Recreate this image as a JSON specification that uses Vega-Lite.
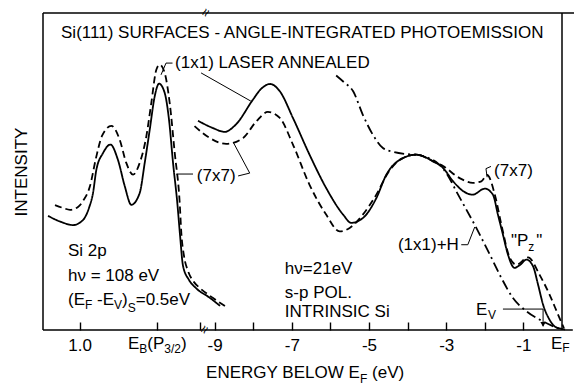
{
  "$schema": "https://vega.github.io/schema/vega-lite/v6.json",
  "background": "white",
  "padding": {"left": 12, "top": 6, "right": 0, "bottom": 0},
  "spacing": 0,
  "bounds": "flush",
  "resolve": {"scale": {"x": "independent", "y": "independent", "strokeDash": "independent"}},
  "config": {
    "view": {"stroke": null},
    "axis": {"labelFont": "Liberation Sans", "titleFont": "Liberation Sans", "labelColor": "black", "titleColor": "black", "grid": false, "domain": false},
    "text": {"font": "Liberation Sans", "color": "black"}
  },
  "datasets": {
    "leftCurves": [
      {"series": "(1x1)", "energy": 1.408, "intensity": 36.0},
      {"series": "(1x1)", "energy": 1.240, "intensity": 34.1},
      {"series": "(1x1)", "energy": 1.085, "intensity": 33.1},
      {"series": "(1x1)", "energy": 0.956, "intensity": 34.7},
      {"series": "(1x1)", "energy": 0.879, "intensity": 38.5},
      {"series": "(1x1)", "energy": 0.827, "intensity": 43.2},
      {"series": "(1x1)", "energy": 0.784, "intensity": 50.5},
      {"series": "(1x1)", "energy": 0.698, "intensity": 55.8},
      {"series": "(1x1)", "energy": 0.603, "intensity": 58.5},
      {"series": "(1x1)", "energy": 0.504, "intensity": 53.6},
      {"series": "(1x1)", "energy": 0.417, "intensity": 45.4},
      {"series": "(1x1)", "energy": 0.332, "intensity": 39.5},
      {"series": "(1x1)", "energy": 0.224, "intensity": 43.2},
      {"series": "(1x1)", "energy": 0.159, "intensity": 52.7},
      {"series": "(1x1)", "energy": 0.094, "intensity": 63.2},
      {"series": "(1x1)", "energy": 0.030, "intensity": 73.7},
      {"series": "(1x1)", "energy": -0.026, "intensity": 77.7},
      {"series": "(1x1)", "energy": -0.099, "intensity": 74.8},
      {"series": "(1x1)", "energy": -0.155, "intensity": 66.3},
      {"series": "(1x1)", "energy": -0.207, "intensity": 52.7},
      {"series": "(1x1)", "energy": -0.262, "intensity": 40.1},
      {"series": "(1x1)", "energy": -0.297, "intensity": 30.0},
      {"series": "(1x1)", "energy": -0.336, "intensity": 20.2},
      {"series": "(1x1)", "energy": -0.413, "intensity": 15.8},
      {"series": "(1x1)", "energy": -0.504, "intensity": 13.2},
      {"series": "(1x1)", "energy": -0.685, "intensity": 10.1},
      {"series": "(1x1)", "energy": -0.814, "intensity": 7.6},
      {"series": "(7x7)", "energy": 1.318, "intensity": 39.4},
      {"series": "(7x7)", "energy": 1.214, "intensity": 38.5},
      {"series": "(7x7)", "energy": 1.124, "intensity": 37.9},
      {"series": "(7x7)", "energy": 1.021, "intensity": 38.8},
      {"series": "(7x7)", "energy": 0.956, "intensity": 40.7},
      {"series": "(7x7)", "energy": 0.866, "intensity": 45.4},
      {"series": "(7x7)", "energy": 0.788, "intensity": 54.3},
      {"series": "(7x7)", "energy": 0.711, "intensity": 61.2},
      {"series": "(7x7)", "energy": 0.590, "intensity": 64.4},
      {"series": "(7x7)", "energy": 0.482, "intensity": 60.0},
      {"series": "(7x7)", "energy": 0.397, "intensity": 52.7},
      {"series": "(7x7)", "energy": 0.310, "intensity": 49.0},
      {"series": "(7x7)", "energy": 0.224, "intensity": 52.7},
      {"series": "(7x7)", "energy": 0.138, "intensity": 61.1},
      {"series": "(7x7)", "energy": 0.074, "intensity": 71.6},
      {"series": "(7x7)", "energy": 0.009, "intensity": 82.1},
      {"series": "(7x7)", "energy": -0.035, "intensity": 83.7},
      {"series": "(7x7)", "energy": -0.099, "intensity": 81.1},
      {"series": "(7x7)", "energy": -0.164, "intensity": 71.6},
      {"series": "(7x7)", "energy": -0.229, "intensity": 55.8},
      {"series": "(7x7)", "energy": -0.293, "intensity": 40.1},
      {"series": "(7x7)", "energy": -0.314, "intensity": 30.6},
      {"series": "(7x7)", "energy": -0.349, "intensity": 23.3},
      {"series": "(7x7)", "energy": -0.401, "intensity": 18.6},
      {"series": "(7x7)", "energy": -0.478, "intensity": 15.1},
      {"series": "(7x7)", "energy": -0.556, "intensity": 13.2},
      {"series": "(7x7)", "energy": -0.724, "intensity": 10.1},
      {"series": "(7x7)", "energy": -0.917, "intensity": 6.9}
    ],
    "rightCurves": [
      {"series": "(1x1)", "energy": -9.43, "intensity": 66.0},
      {"series": "(1x1)", "energy": -9.04, "intensity": 63.7},
      {"series": "(1x1)", "energy": -8.74, "intensity": 62.5},
      {"series": "(1x1)", "energy": -8.45, "intensity": 64.8},
      {"series": "(1x1)", "energy": -8.01, "intensity": 72.6},
      {"series": "(1x1)", "energy": -7.80, "intensity": 76.0},
      {"series": "(1x1)", "energy": -7.56, "intensity": 77.6},
      {"series": "(1x1)", "energy": -7.31, "intensity": 75.3},
      {"series": "(1x1)", "energy": -6.97, "intensity": 66.9},
      {"series": "(1x1)", "energy": -6.54, "intensity": 55.3},
      {"series": "(1x1)", "energy": -6.11, "intensity": 44.8},
      {"series": "(1x1)", "energy": -5.67, "intensity": 36.4},
      {"series": "(1x1)", "energy": -5.46, "intensity": 33.8},
      {"series": "(1x1)", "energy": -5.16, "intensity": 35.3},
      {"series": "(1x1)", "energy": -4.81, "intensity": 41.6},
      {"series": "(1x1)", "energy": -4.55, "intensity": 49.0},
      {"series": "(1x1)", "energy": -4.20, "intensity": 53.7},
      {"series": "(1x1)", "energy": -3.77, "intensity": 55.3},
      {"series": "(1x1)", "energy": -3.34, "intensity": 53.2},
      {"series": "(1x1)", "energy": -3.08, "intensity": 51.1},
      {"series": "(1x1)", "energy": -2.82, "intensity": 46.9},
      {"series": "(1x1)", "energy": -2.56, "intensity": 43.8},
      {"series": "(1x1)", "energy": -2.31, "intensity": 42.7},
      {"series": "(1x1)", "energy": -2.00, "intensity": 44.6},
      {"series": "(1x1)", "energy": -1.79, "intensity": 42.7},
      {"series": "(1x1)", "energy": -1.66, "intensity": 36.4},
      {"series": "(1x1)", "energy": -1.53, "intensity": 30.1},
      {"series": "(1x1)", "energy": -1.40, "intensity": 23.8},
      {"series": "(1x1)", "energy": -1.23, "intensity": 19.6},
      {"series": "(1x1)", "energy": -1.09, "intensity": 20.5},
      {"series": "(1x1)", "energy": -0.92, "intensity": 22.2},
      {"series": "(1x1)", "energy": -0.75, "intensity": 20.1},
      {"series": "(1x1)", "energy": -0.62, "intensity": 14.3},
      {"series": "(1x1)", "energy": -0.49, "intensity": 8.0},
      {"series": "(1x1)", "energy": -0.32, "intensity": 3.2},
      {"series": "(1x1)", "energy": -0.16, "intensity": 0.9},
      {"series": "(1x1)", "energy": 0.08, "intensity": 0.2},
      {"series": "(7x7)", "energy": -9.52, "intensity": 64.3},
      {"series": "(7x7)", "energy": -9.13, "intensity": 60.6},
      {"series": "(7x7)", "energy": -8.70, "intensity": 58.7},
      {"series": "(7x7)", "energy": -8.26, "intensity": 60.6},
      {"series": "(7x7)", "energy": -7.92, "intensity": 65.8},
      {"series": "(7x7)", "energy": -7.62, "intensity": 68.8},
      {"series": "(7x7)", "energy": -7.31, "intensity": 66.9},
      {"series": "(7x7)", "energy": -6.97, "intensity": 58.5},
      {"series": "(7x7)", "energy": -6.54, "intensity": 45.8},
      {"series": "(7x7)", "energy": -6.11, "intensity": 36.4},
      {"series": "(7x7)", "energy": -5.76, "intensity": 31.1},
      {"series": "(7x7)", "energy": -5.50, "intensity": 32.2},
      {"series": "(7x7)", "energy": -5.16, "intensity": 36.4},
      {"series": "(7x7)", "energy": -4.81, "intensity": 42.7},
      {"series": "(7x7)", "energy": -4.51, "intensity": 49.5},
      {"series": "(7x7)", "energy": -4.17, "intensity": 53.9},
      {"series": "(7x7)", "energy": -3.77, "intensity": 55.3},
      {"series": "(7x7)", "energy": -3.34, "intensity": 53.2},
      {"series": "(7x7)", "energy": -3.08, "intensity": 51.7},
      {"series": "(7x7)", "energy": -2.65, "intensity": 47.9},
      {"series": "(7x7)", "energy": -2.31, "intensity": 46.4},
      {"series": "(7x7)", "energy": -2.09, "intensity": 46.9},
      {"series": "(7x7)", "energy": -1.94, "intensity": 48.9},
      {"series": "(7x7)", "energy": -1.74, "intensity": 42.7},
      {"series": "(7x7)", "energy": -1.57, "intensity": 33.2},
      {"series": "(7x7)", "energy": -1.35, "intensity": 22.7},
      {"series": "(7x7)", "energy": -1.18, "intensity": 20.6},
      {"series": "(7x7)", "energy": -0.88, "intensity": 22.9},
      {"series": "(7x7)", "energy": -0.58, "intensity": 17.4},
      {"series": "(7x7)", "energy": -0.32, "intensity": 11.1},
      {"series": "(7x7)", "energy": -0.10, "intensity": 4.8},
      {"series": "(7x7)", "energy": 0.05, "intensity": 0.6},
      {"series": "(1x1)+H", "energy": -5.85, "intensity": 80.3},
      {"series": "(1x1)+H", "energy": -5.65, "intensity": 78.2},
      {"series": "(1x1)+H", "energy": -5.41, "intensity": 75.3},
      {"series": "(1x1)+H", "energy": -5.16, "intensity": 67.9},
      {"series": "(1x1)+H", "energy": -4.90, "intensity": 61.6},
      {"series": "(1x1)+H", "energy": -4.64, "intensity": 57.4},
      {"series": "(1x1)+H", "energy": -4.38, "intensity": 56.2},
      {"series": "(1x1)+H", "energy": -4.03, "intensity": 55.5},
      {"series": "(1x1)+H", "energy": -3.77, "intensity": 55.3},
      {"series": "(1x1)+H", "energy": -3.47, "intensity": 54.3},
      {"series": "(1x1)+H", "energy": -3.17, "intensity": 52.1},
      {"series": "(1x1)+H", "energy": -2.95, "intensity": 48.6},
      {"series": "(1x1)+H", "energy": -2.74, "intensity": 43.8},
      {"series": "(1x1)+H", "energy": -2.22, "intensity": 32.2},
      {"series": "(1x1)+H", "energy": -1.87, "intensity": 23.8},
      {"series": "(1x1)+H", "energy": -1.57, "intensity": 16.4},
      {"series": "(1x1)+H", "energy": -1.27, "intensity": 10.1},
      {"series": "(1x1)+H", "energy": -0.92, "intensity": 5.9},
      {"series": "(1x1)+H", "energy": -0.49, "intensity": 2.7},
      {"series": "(1x1)+H", "energy": -0.06, "intensity": 0.3}
    ],
    "leftLeaders": [
      {"id": "a", "seq": 1, "x": -0.200, "y": 84.2},
      {"id": "a", "seq": 2, "x": -0.116, "y": 84.2},
      {"id": "a", "seq": 3, "x": -0.052, "y": 80.5},
      {"id": "b", "seq": 1, "x": -0.249, "y": 49.2},
      {"id": "b", "seq": 2, "x": -0.465, "y": 49.2}
    ],
    "rightLeaders": [
      {"id": "r1", "seq": 1, "x": -9.35, "y": 81.1},
      {"id": "r1", "seq": 2, "x": -8.06, "y": 72.2},
      {"id": "r2", "seq": 1, "x": -8.39, "y": 48.6},
      {"id": "r2", "seq": 2, "x": -8.09, "y": 49.5},
      {"id": "r2", "seq": 3, "x": -8.52, "y": 59.3},
      {"id": "r3", "seq": 1, "x": -1.94, "y": 48.2},
      {"id": "r3", "seq": 2, "x": -1.97, "y": 50.9},
      {"id": "r3", "seq": 3, "x": -1.84, "y": 51.6},
      {"id": "r4", "seq": 1, "x": -2.61, "y": 26.9},
      {"id": "r4", "seq": 2, "x": -2.44, "y": 26.9},
      {"id": "r4", "seq": 3, "x": -2.26, "y": 32.5},
      {"id": "r5", "seq": 1, "x": -1.53, "y": 6.6},
      {"id": "r5", "seq": 2, "x": -0.49, "y": 6.6},
      {"id": "r5", "seq": 3, "x": -0.49, "y": 1.2}
    ],
    "leftText": [
      {"x": 1.240, "y": 93.7, "text": "Si(111) SURFACES - ANGLE-INTEGRATED PHOTOEMISSION"},
      {"x": -0.233, "y": 84.2, "text": "(1x1) LASER ANNEALED"},
      {"x": 1.150, "y": 24.9, "text": "Si 2p"},
      {"x": 1.150, "y": 17.0, "text": "hν = 108 eV"},
      {"x": 1.150, "y": 9.6, "text": "(E"},
      {"x": 0.775, "y": 9.6, "text": "-E"},
      {"x": 0.452, "y": 9.6, "text": ")"},
      {"x": 0.275, "y": 9.6, "text": "=0.5eV"},
      {"x": 0.375, "y": -4.4, "text": "E"},
      {"x": 0.125, "y": -4.4, "text": "(P"},
      {"x": -0.310, "y": -4.4, "text": ")"}
    ],
    "leftSub": [
      {"x": 0.930, "y": 7.9, "text": "F"},
      {"x": 0.556, "y": 7.9, "text": "V"},
      {"x": 0.379, "y": 6.9, "text": "S"},
      {"x": 0.229, "y": -6.0, "text": "B"},
      {"x": -0.094, "y": -6.0, "text": "3/2"}
    ],
    "rightText": [
      {"x": -9.46, "y": 48.6, "text": "(7x7)"},
      {"x": -1.76, "y": 50.2, "text": "(7x7)"},
      {"x": -4.25, "y": 26.8, "text": "(1x1)+H"},
      {"x": -1.32, "y": 28.2, "text": "\"P"},
      {"x": -0.67, "y": 28.2, "text": "\""},
      {"x": -2.23, "y": 6.3, "text": "E"},
      {"x": -7.18, "y": 19.2, "text": "hν=21eV"},
      {"x": -7.18, "y": 11.7, "text": "s-p POL."},
      {"x": -7.18, "y": 5.7, "text": "INTRINSIC Si"},
      {"x": -9.22, "y": -13.7, "text": "ENERGY BELOW E"},
      {"x": -4.92, "y": -13.7, "text": "(eV)"},
      {"x": -0.285, "y": -4.4, "text": "E"}
    ],
    "rightSub": [
      {"x": -0.873, "y": 26.3, "text": "z"},
      {"x": -1.92, "y": 4.7, "text": "V"},
      {"x": -5.23, "y": -15.3, "text": "F"},
      {"x": 0.008, "y": -5.8, "text": "F"}
    ],
    "breaks": [
      {"x": -9.22, "y": 100},
      {"x": -9.25, "y": 0}
    ]
  },
  "hconcat": [
    {
      "width": 160,
      "height": 317,
      "layer": [
        {
          "data": {"name": "leftCurves"},
          "mark": {"type": "line", "clip": false, "strokeWidth": 1.8, "color": "black", "interpolate": "monotone"},
          "encoding": {
            "x": {
              "field": "energy", "type": "quantitative",
              "scale": {"domain": [-0.594, 1.473], "reverse": true, "nice": false, "zero": false},
              "axis": {"title": null, "values": [1, 0.5, 0, -0.5, -0.55], "labelExpr": "datum.value == 1 ? '1.0' : ''", "tickSize": -8, "tickColor": "black", "tickWidth": 1.4, "labelFontSize": 17, "labelPadding": 15, "labelFlush": false}
            },
            "y": {
              "field": "intensity", "type": "quantitative",
              "scale": {"domain": [0, 100], "nice": false, "zero": false},
              "axis": {"title": "INTENSITY", "labels": false, "ticks": false, "titleFontSize": 17, "titleFontWeight": "normal", "titlePadding": 13}
            },
            "strokeDash": {"field": "series", "type": "nominal", "scale": {"domain": ["(1x1)", "(7x7)", "(1x1)+H"], "range": [[1, 0], [7, 4], [10, 4, 2, 4]]}, "legend": null}
          }
        },
        {
          "data": {"values": [{}]},
          "mark": {"type": "rule", "color": "black", "strokeWidth": 1.5},
          "encoding": {"y": {"datum": 100}}
        },
        {
          "data": {"values": [{}]},
          "mark": {"type": "rule", "color": "black", "strokeWidth": 1.5},
          "encoding": {"y": {"datum": 0}}
        },
        {
          "data": {"values": [{}]},
          "mark": {"type": "rule", "color": "black", "strokeWidth": 1.5},
          "encoding": {"x": {"datum": 1.473}}
        },
        {
          "data": {"name": "leftLeaders"},
          "mark": {"type": "line", "clip": false, "strokeWidth": 1, "color": "black"},
          "encoding": {
            "x": {"field": "x", "type": "quantitative"},
            "y": {"field": "y", "type": "quantitative"},
            "detail": {"field": "id"},
            "order": {"field": "seq"}
          }
        },
        {
          "data": {"name": "leftText"},
          "mark": {"type": "text", "clip": false, "align": "left", "baseline": "middle", "fontSize": 17},
          "encoding": {
            "x": {"field": "x", "type": "quantitative"},
            "y": {"field": "y", "type": "quantitative"},
            "text": {"field": "text"}
          }
        },
        {
          "data": {"name": "leftSub"},
          "mark": {"type": "text", "clip": false, "align": "left", "baseline": "middle", "fontSize": 12},
          "encoding": {
            "x": {"field": "x", "type": "quantitative"},
            "y": {"field": "y", "type": "quantitative"},
            "text": {"field": "text"}
          }
        }
      ]
    },
    {
      "width": 359,
      "height": 317,
      "layer": [
        {
          "data": {"name": "rightCurves"},
          "mark": {"type": "line", "clip": false, "strokeWidth": 1.8, "color": "black", "interpolate": "monotone"},
          "encoding": {
            "x": {
              "field": "energy", "type": "quantitative",
              "scale": {"domain": [-9.3, 0], "nice": false, "zero": false},
              "axis": {"title": null, "values": [-9, -8, -7, -6, -5, -4, -3, -2, -1], "labelExpr": "datum.value % 2 != 0 ? '' + datum.value : ''", "tickSize": -8, "tickColor": "black", "tickWidth": 1.4, "labelFontSize": 17, "labelPadding": 15, "labelFlush": false}
            },
            "y": {
              "field": "intensity", "type": "quantitative",
              "scale": {"domain": [0, 100], "nice": false, "zero": false},
              "axis": null
            },
            "strokeDash": {"field": "series", "type": "nominal", "scale": {"domain": ["(1x1)", "(7x7)", "(1x1)+H"], "range": [[1, 0], [7, 4], [10, 4, 2, 4]]}, "legend": null}
          }
        },
        {
          "data": {"values": [{}]},
          "mark": {"type": "rule", "color": "black", "strokeWidth": 1.5, "clip": false},
          "encoding": {"y": {"datum": 100}, "x": {"datum": -9.3}, "x2": {"datum": 0.39}}
        },
        {
          "data": {"values": [{}]},
          "mark": {"type": "rule", "color": "black", "strokeWidth": 1.5, "clip": false},
          "encoding": {"y": {"datum": 0}, "x": {"datum": -9.3}, "x2": {"datum": 0.28}}
        },
        {
          "data": {"values": [{}]},
          "mark": {"type": "rule", "color": "black", "strokeWidth": 1.5},
          "encoding": {"x": {"datum": 0}, "y": {"datum": 0}, "y2": {"datum": 100}}
        },
        {
          "data": {"name": "rightLeaders"},
          "mark": {"type": "line", "clip": false, "strokeWidth": 1, "color": "black"},
          "encoding": {
            "x": {"field": "x", "type": "quantitative"},
            "y": {"field": "y", "type": "quantitative"},
            "detail": {"field": "id"},
            "order": {"field": "seq"}
          }
        },
        {
          "data": {"values": [{}]},
          "mark": {"type": "point", "shape": "triangle-down", "filled": true, "color": "black", "size": 30, "opacity": 1},
          "encoding": {"x": {"datum": -0.49}, "y": {"datum": 1.8}}
        },
        {
          "data": {"name": "breaks"},
          "mark": {"type": "text", "clip": false, "align": "center", "baseline": "middle", "fontSize": 14, "angle": 300},
          "encoding": {
            "x": {"field": "x", "type": "quantitative"},
            "y": {"field": "y", "type": "quantitative"},
            "text": {"value": "≈"}
          }
        },
        {
          "data": {"name": "rightText"},
          "mark": {"type": "text", "clip": false, "align": "left", "baseline": "middle", "fontSize": 17},
          "encoding": {
            "x": {"field": "x", "type": "quantitative"},
            "y": {"field": "y", "type": "quantitative"},
            "text": {"field": "text"}
          }
        },
        {
          "data": {"name": "rightSub"},
          "mark": {"type": "text", "clip": false, "align": "left", "baseline": "middle", "fontSize": 12},
          "encoding": {
            "x": {"field": "x", "type": "quantitative"},
            "y": {"field": "y", "type": "quantitative"},
            "text": {"field": "text"}
          }
        }
      ]
    }
  ]
}
